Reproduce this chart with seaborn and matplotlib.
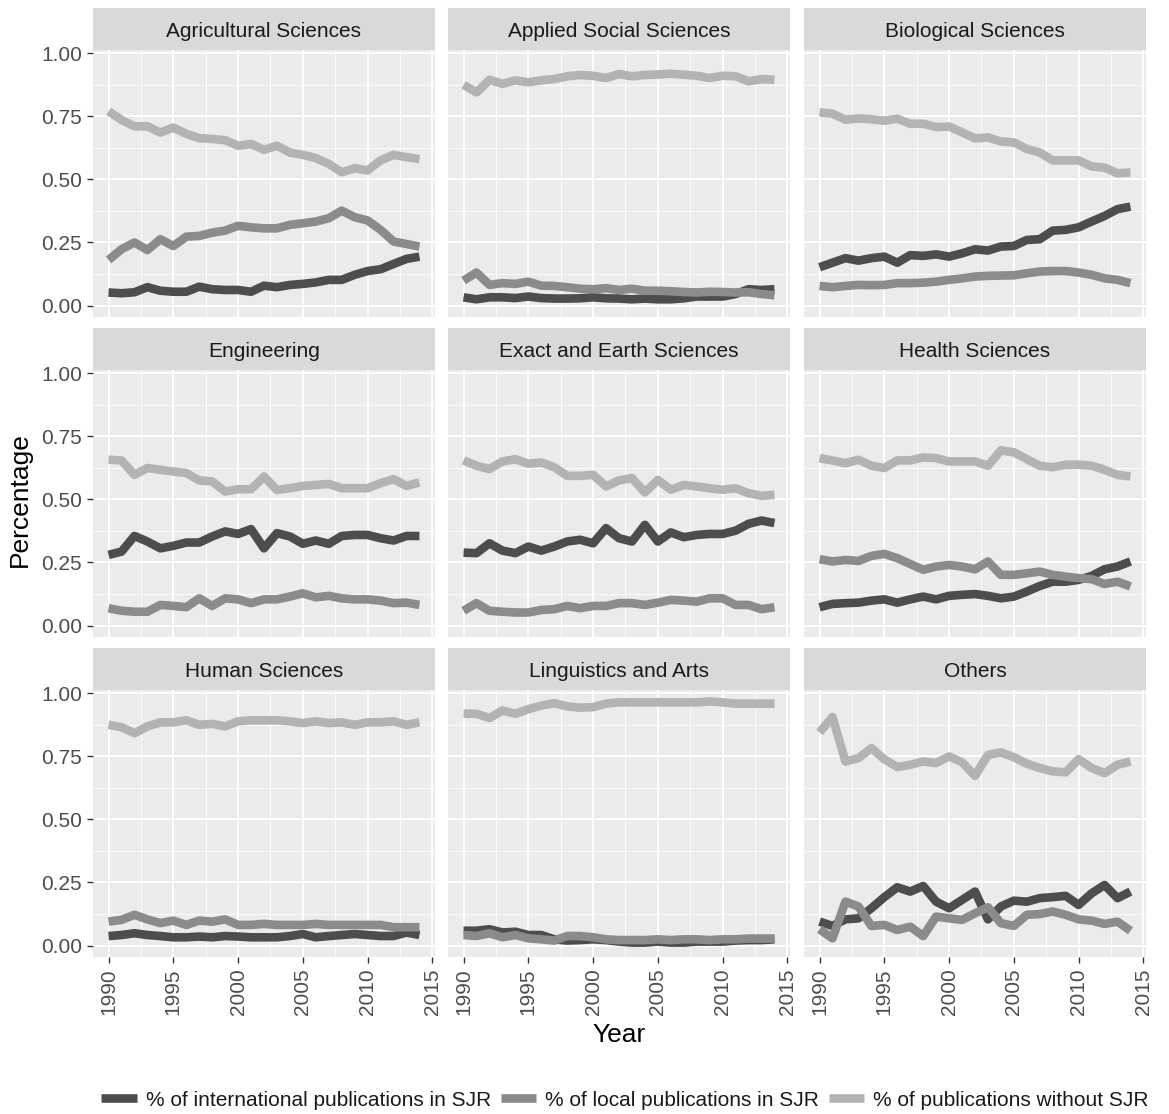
import numpy as np
import pandas as pd
import matplotlib
matplotlib.use("Agg")
import matplotlib.pyplot as plt
from matplotlib.patches import Rectangle
from matplotlib.lines import Line2D
import seaborn as sns

years = list(range(1990, 2015))

fields = ["Agricultural Sciences", "Applied Social Sciences", "Biological Sciences",
          "Engineering", "Exact and Earth Sciences", "Health Sciences",
          "Human Sciences", "Linguistics and Arts", "Others"]

series = ["% of international publications in SJR",
          "% of local publications in SJR",
          "% of publications without SJR"]

# values, one list per field and series (1990..2014)
agri_int = [0.052, 0.049, 0.053, 0.073, 0.059, 0.055, 0.055, 0.075, 0.065, 0.062, 0.062, 0.055, 0.079,
            0.073, 0.082, 0.086, 0.092, 0.102, 0.102, 0.122, 0.137, 0.144, 0.165, 0.185, 0.194]
agri_loc = [0.181, 0.223, 0.25, 0.22, 0.263, 0.236, 0.273, 0.276, 0.289, 0.297, 0.316, 0.31, 0.306,
            0.306, 0.32, 0.326, 0.333, 0.346, 0.376, 0.35, 0.337, 0.3, 0.254, 0.244, 0.234]
agri_no = [0.77, 0.735, 0.71, 0.71, 0.685, 0.705, 0.68, 0.663, 0.66, 0.655, 0.633, 0.64, 0.617,
           0.633, 0.606, 0.597, 0.584, 0.561, 0.528, 0.544, 0.535, 0.575, 0.597, 0.588, 0.58]

appl_int = [0.033, 0.025, 0.033, 0.033, 0.03, 0.036, 0.03, 0.028, 0.028, 0.029, 0.033, 0.029, 0.028,
            0.025, 0.028, 0.025, 0.025, 0.029, 0.036, 0.036, 0.036, 0.046, 0.065, 0.062, 0.065]
appl_loc = [0.099, 0.131, 0.082, 0.089, 0.086, 0.095, 0.079, 0.078, 0.073, 0.067, 0.065, 0.069, 0.062,
            0.067, 0.059, 0.059, 0.057, 0.054, 0.052, 0.055, 0.054, 0.052, 0.053, 0.046, 0.041]
appl_no = [0.874, 0.844, 0.894, 0.878, 0.892, 0.884, 0.892, 0.897, 0.908, 0.913, 0.91, 0.901, 0.917,
           0.908, 0.913, 0.915, 0.918, 0.914, 0.91, 0.901, 0.91, 0.908, 0.888, 0.897, 0.894]

bio_int = [0.152, 0.17, 0.188, 0.178, 0.188, 0.194, 0.17, 0.2, 0.197, 0.203, 0.194, 0.207, 0.223,
           0.218, 0.234, 0.236, 0.26, 0.263, 0.297, 0.3, 0.31, 0.333, 0.355, 0.382, 0.392]
bio_loc = [0.078, 0.073, 0.078, 0.082, 0.081, 0.082, 0.089, 0.089, 0.091, 0.095, 0.102, 0.108, 0.115,
           0.118, 0.119, 0.12, 0.128, 0.135, 0.137, 0.137, 0.131, 0.122, 0.108, 0.102, 0.089]
bio_no = [0.765, 0.76, 0.736, 0.741, 0.738, 0.732, 0.74, 0.72, 0.72, 0.707, 0.709, 0.686, 0.662,
          0.666, 0.65, 0.646, 0.62, 0.606, 0.575, 0.575, 0.575, 0.551, 0.546, 0.524, 0.527]

eng_int = [0.28, 0.293, 0.355, 0.333, 0.306, 0.316, 0.329, 0.329, 0.353, 0.373, 0.363, 0.382, 0.306,
           0.366, 0.353, 0.324, 0.337, 0.324, 0.355, 0.359, 0.359, 0.346, 0.337, 0.355, 0.355]
eng_loc = [0.069, 0.059, 0.055, 0.055, 0.082, 0.078, 0.073, 0.108, 0.078, 0.108, 0.104, 0.089, 0.104,
           0.104, 0.115, 0.128, 0.112, 0.118, 0.108, 0.104, 0.104, 0.099, 0.089, 0.091, 0.082]
eng_no = [0.657, 0.654, 0.597, 0.624, 0.617, 0.61, 0.604, 0.575, 0.571, 0.531, 0.54, 0.54, 0.59,
          0.537, 0.544, 0.553, 0.557, 0.561, 0.544, 0.544, 0.544, 0.564, 0.58, 0.553, 0.567]

exact_int = [0.289, 0.287, 0.326, 0.297, 0.287, 0.313, 0.297, 0.313, 0.333, 0.34, 0.326, 0.386, 0.346,
             0.333, 0.399, 0.333, 0.369, 0.35, 0.359, 0.363, 0.363, 0.376, 0.403, 0.416, 0.406]
exact_loc = [0.059, 0.089, 0.059, 0.055, 0.052, 0.052, 0.062, 0.065, 0.078, 0.069, 0.078, 0.078, 0.089,
             0.089, 0.082, 0.091, 0.102, 0.099, 0.095, 0.108, 0.108, 0.082, 0.082, 0.065, 0.073]
exact_no = [0.654, 0.633, 0.62, 0.65, 0.659, 0.641, 0.646, 0.627, 0.593, 0.593, 0.597, 0.551, 0.575,
            0.584, 0.527, 0.577, 0.538, 0.557, 0.551, 0.544, 0.538, 0.544, 0.524, 0.514, 0.518]

health_int = [0.073, 0.086, 0.089, 0.091, 0.099, 0.104, 0.091, 0.104, 0.115, 0.104, 0.118, 0.122, 0.125,
              0.118, 0.108, 0.115, 0.135, 0.157, 0.174, 0.174, 0.181, 0.197, 0.223, 0.234, 0.254]
health_loc = [0.263, 0.254, 0.26, 0.256, 0.276, 0.284, 0.267, 0.244, 0.221, 0.234, 0.24, 0.234, 0.223,
              0.254, 0.201, 0.201, 0.207, 0.214, 0.201, 0.194, 0.188, 0.184, 0.165, 0.174, 0.155]
health_no = [0.663, 0.654, 0.643, 0.657, 0.633, 0.624, 0.654, 0.654, 0.666, 0.663, 0.65, 0.65, 0.65,
             0.633, 0.694, 0.686, 0.659, 0.633, 0.627, 0.637, 0.637, 0.633, 0.617, 0.597, 0.59]

human_int = [0.038, 0.042, 0.049, 0.042, 0.038, 0.033, 0.033, 0.036, 0.033, 0.038, 0.036, 0.033, 0.033,
             0.033, 0.038, 0.046, 0.033, 0.038, 0.042, 0.046, 0.042, 0.038, 0.038, 0.052, 0.042]
human_loc = [0.095, 0.102, 0.122, 0.104, 0.089, 0.099, 0.082, 0.099, 0.095, 0.104, 0.082, 0.082, 0.086,
             0.082, 0.082, 0.082, 0.086, 0.082, 0.082, 0.082, 0.082, 0.082, 0.073, 0.073, 0.073]
human_no = [0.874, 0.865, 0.841, 0.868, 0.884, 0.884, 0.892, 0.874, 0.878, 0.868, 0.888, 0.892, 0.892,
            0.892, 0.888, 0.881, 0.888, 0.881, 0.884, 0.874, 0.884, 0.884, 0.888, 0.874, 0.884]

ling_int = [0.059, 0.059, 0.065, 0.052, 0.055, 0.042, 0.042, 0.025, 0.02, 0.022, 0.025, 0.022, 0.016,
            0.012, 0.012, 0.016, 0.012, 0.012, 0.016, 0.016, 0.016, 0.02, 0.022, 0.022, 0.025]
ling_loc = [0.042, 0.038, 0.049, 0.033, 0.042, 0.029, 0.025, 0.02, 0.038, 0.038, 0.033, 0.025, 0.022,
            0.022, 0.022, 0.025, 0.022, 0.025, 0.025, 0.022, 0.025, 0.025, 0.028, 0.028, 0.028]
ling_no = [0.918, 0.918, 0.901, 0.931, 0.918, 0.936, 0.95, 0.96, 0.947, 0.942, 0.944, 0.958, 0.963,
           0.963, 0.963, 0.963, 0.963, 0.963, 0.963, 0.967, 0.963, 0.958, 0.958, 0.958, 0.958]

other_int = [0.095, 0.078, 0.104, 0.108, 0.148, 0.192, 0.231, 0.214, 0.236, 0.174, 0.148, 0.181, 0.214,
             0.104, 0.155, 0.178, 0.174, 0.188, 0.192, 0.197, 0.161, 0.207, 0.24, 0.188, 0.214]
other_loc = [0.065, 0.029, 0.174, 0.155, 0.078, 0.082, 0.062, 0.075, 0.038, 0.115, 0.108, 0.102, 0.128,
             0.152, 0.089, 0.078, 0.122, 0.125, 0.135, 0.122, 0.104, 0.099, 0.086, 0.095, 0.059]
other_no = [0.844, 0.905, 0.729, 0.742, 0.782, 0.738, 0.707, 0.716, 0.729, 0.723, 0.749, 0.726, 0.672,
            0.755, 0.765, 0.746, 0.72, 0.703, 0.69, 0.686, 0.738, 0.703, 0.683, 0.716, 0.729]

field_data = {
    "Agricultural Sciences": (agri_int, agri_loc, agri_no),
    "Applied Social Sciences": (appl_int, appl_loc, appl_no),
    "Biological Sciences": (bio_int, bio_loc, bio_no),
    "Engineering": (eng_int, eng_loc, eng_no),
    "Exact and Earth Sciences": (exact_int, exact_loc, exact_no),
    "Health Sciences": (health_int, health_loc, health_no),
    "Human Sciences": (human_int, human_loc, human_no),
    "Linguistics and Arts": (ling_int, ling_loc, ling_no),
    "Others": (other_int, other_loc, other_no),
}

# long format table
rows = []
for f in fields:
    for s, vals in zip(series, field_data[f]):
        for y, v in zip(years, vals):
            rows.append({"Field": f, "Type": s, "Year": y, "Percentage": v})
df = pd.DataFrame(rows)

colors = ["#4D4D4D", "#8B8B8B", "#B3B3B3"]
palette = dict(zip(series, colors))

sns.set_theme(style="darkgrid")
plt.rcParams["font.family"] = ["Liberation Sans", "DejaVu Sans"]

W, H = 1169, 1114
fig = plt.figure(figsize=(W / 100, H / 100), dpi=100)

col_left = [93, 448, 804]
row_top = [50, 370, 690]
pw, ph = 342, 267
strip_h = 42
lw = 6.2

for i, f in enumerate(fields):
    r, c = divmod(i, 3)
    ax = fig.add_axes([col_left[c] / W, 1 - (row_top[r] + ph) / H, pw / W, ph / H])
    ax.set_facecolor("#EBEBEB")
    sub = df[df["Field"] == f]
    sns.lineplot(data=sub, x="Year", y="Percentage", hue="Type", hue_order=series,
                 palette=palette, linewidth=lw, legend=False, ax=ax,
                 solid_capstyle="butt", solid_joinstyle="round")
    ax.set_xlim(1988.8, 2015.2)
    ax.set_ylim(-0.045, 1.012)
    ax.set_xticks([1990, 1995, 2000, 2005, 2010, 2015])
    ax.set_xticks([1992.5, 1997.5, 2002.5, 2007.5, 2012.5], minor=True)
    ax.set_yticks([0, 0.25, 0.5, 0.75, 1.0])
    ax.set_yticks([0.125, 0.375, 0.625, 0.875], minor=True)
    ax.grid(which="major", color="white", linewidth=1.3)
    ax.grid(which="minor", color="white", linewidth=0.6)
    for sp in ax.spines.values():
        sp.set_visible(False)
    ax.set_xlabel("")
    ax.set_ylabel("")
    ax.tick_params(which="major", length=4, width=1.0, color="#333333",
                   labelsize=15, labelcolor="#4D4D4D", pad=4)
    ax.tick_params(which="minor", length=0)
    ax.tick_params(axis="x", bottom=True)
    ax.tick_params(axis="y", left=True)
    if c == 0:
        ax.set_yticklabels(["0.00", "0.25", "0.50", "0.75", "1.00"])
    else:
        ax.set_yticklabels([])
        ax.tick_params(axis="y", left=False)
    if r == 2:
        ax.set_xticklabels(["1990", "1995", "2000", "2005", "2010", "2015"], rotation=90)
    else:
        ax.set_xticklabels([])
        ax.tick_params(axis="x", bottom=False)

    # facet strip
    sh = strip_h / ph
    ax.add_patch(Rectangle((0, 1), 1, sh, transform=ax.transAxes, facecolor="#D9D9D9",
                           edgecolor="none", clip_on=False))
    ax.text(0.5, 1 + sh / 2 - 0.008, f, transform=ax.transAxes, ha="center", va="center",
            fontsize=15, color="#1A1A1A")

fig.text(619.5 / W, 1 - 1035 / H, "Year", ha="center", va="center", fontsize=19, color="black")
fig.text(20 / W, 1 - 500 / H, "Percentage", ha="center", va="center", rotation=90,
         fontsize=19, color="black")

handles = [Line2D([0], [0], color=col, linewidth=lw, solid_capstyle="butt") for col in colors]
leg = fig.legend(handles, series, loc="center", bbox_to_anchor=(625 / W, 1 - 1100 / H), ncol=3,
                 frameon=False, fontsize=15, handlelength=1.7, handletextpad=0.45,
                 columnspacing=0.45)
for t in leg.get_texts():
    t.set_color("#1A1A1A")

fig.savefig("out.png", dpi=100, facecolor="white")
